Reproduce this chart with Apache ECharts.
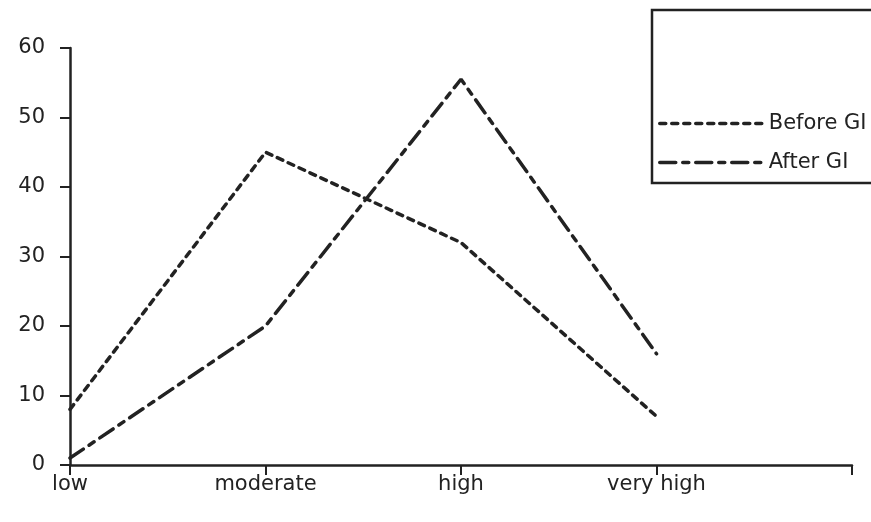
<!DOCTYPE html>
<html>
<head>
<meta charset="utf-8">
<script src="https://cdn.jsdelivr.net/npm/echarts@6/dist/echarts.min.js"></script>
<style>html,body{margin:0;padding:0;background:#fff}#c{width:871px;height:522px}</style>
</head>
<body>
<div id="c"></div>
<script>
var categories = ['low', 'moderate', 'high', 'very high', ''];
var beforeGI = [8, 45, 32, 7];
var afterGI = [1, 20, 55.5, 16];
var yTicks = { min: 0, max: 60, interval: 10 };

var chart = echarts.init(document.getElementById('c'));
var ink = '#222222';
var font = 'DejaVu Sans';
chart.setOption({
  backgroundColor: '#ffffff',
  animation: false,
  grid: { left: 70, right: 19, top: 48, bottom: 57 },
  xAxis: {
    type: 'category',
    data: categories,
    boundaryGap: false,
    axisLine: { lineStyle: { color: ink, width: 2.5 } },
    axisTick: { show: true, length: 10, inside: false, lineStyle: { color: ink, width: 2 } },
    axisLabel: { color: ink, fontFamily: font, fontSize: 21, margin: 9 },
    splitLine: { show: false }
  },
  yAxis: {
    type: 'value',
    min: yTicks.min, max: yTicks.max, interval: yTicks.interval,
    axisLine: { show: true, lineStyle: { color: ink, width: 2.5 } },
    axisTick: { show: true, length: 10, lineStyle: { color: ink, width: 2 } },
    axisLabel: { color: ink, fontFamily: font, fontSize: 21, margin: 25 },
    splitLine: { show: false }
  },
  legend: {
    orient: 'vertical',
    left: 653,
    top: 108,
    itemWidth: 104,
    itemHeight: 20,
    itemGap: 18,
    itemStyle: { opacity: 0 },
    lineStyle: { width: 3.5 },
    textStyle: { color: ink, fontFamily: font, fontSize: 21 },
    data: ['Before GI', 'After GI']
  },
  graphic: [{
    type: 'rect',
    shape: { x: 652, y: 10, width: 240, height: 173 },
    style: { fill: 'none', stroke: ink, lineWidth: 2.5 },
    silent: true
  }],
  series: [
    {
      name: 'Before GI', type: 'line', data: beforeGI,
      symbol: 'none', color: ink,
      lineStyle: { color: ink, width: 3.5, type: [6, 6], cap: 'round' }
    },
    {
      name: 'After GI', type: 'line', data: afterGI,
      symbol: 'none', color: ink,
      lineStyle: { color: ink, width: 3.5, type: [16, 7, 6, 7], cap: 'round' }
    }
  ]
});
</script>
</body>
</html>
